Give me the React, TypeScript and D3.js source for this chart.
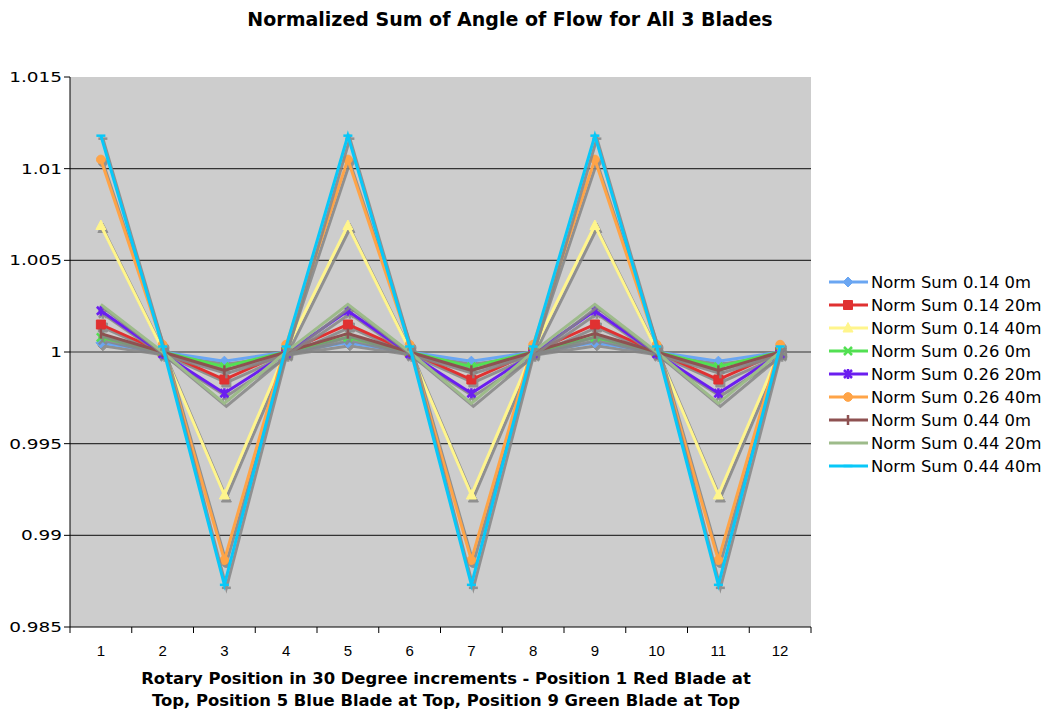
import React from 'react';
import * as d3 from 'd3';

// rotary positions 1..12
const positions = [1, 2, 3, 4, 5, 6, 7, 8, 9, 10, 11, 12];

const norm014_0m = [1.0005, 1.0, 0.9995, 1.0, 1.0005, 1.0, 0.9995, 1.0, 1.0005, 1.0, 0.9995, 1.0];
const norm014_20m = [1.0015, 1.0, 0.9985, 1.0, 1.0015, 1.0, 0.9985, 1.0, 1.0015, 1.0, 0.9985, 1.0];
const norm014_40m = [1.0069, 1.0001, 0.9922, 1.0001, 1.0069, 1.0001, 0.9922, 1.0001, 1.0069, 1.0001, 0.9922, 1.0001];
const norm026_0m = [1.0008, 1.0, 0.9992, 1.0, 1.0008, 1.0, 0.9992, 1.0, 1.0008, 1.0, 0.9992, 1.0];
const norm026_20m = [1.00225, 0.9999, 0.99775, 0.9999, 1.00225, 0.9999, 0.99775, 0.9999, 1.00225, 0.9999, 0.99775, 0.9999];
const norm026_40m = [1.0105, 1.0004, 0.98865, 1.0004, 1.0105, 1.0004, 0.98865, 1.0004, 1.0105, 1.0004, 0.98865, 1.0004];
const norm044_0m = [1.001, 1.0, 0.999, 1.0, 1.001, 1.0, 0.999, 1.0, 1.001, 1.0, 0.999, 1.0];
const norm044_20m = [1.0026, 1.0, 0.9972, 1.0, 1.0026, 1.0, 0.9972, 1.0, 1.0026, 1.0, 0.9972, 1.0];
const norm044_40m = [1.0118, 1.0003, 0.9873, 1.0003, 1.0118, 1.0003, 0.9873, 1.0003, 1.0118, 1.0003, 0.9873, 1.0003];

const seriesNames = [
  'Norm Sum 0.14 0m',
  'Norm Sum 0.14 20m',
  'Norm Sum 0.14 40m',
  'Norm Sum 0.26 0m',
  'Norm Sum 0.26 20m',
  'Norm Sum 0.26 40m',
  'Norm Sum 0.44 0m',
  'Norm Sum 0.44 20m',
  'Norm Sum 0.44 40m',
];
const seriesValues = [
  norm014_0m, norm014_20m, norm014_40m,
  norm026_0m, norm026_20m, norm026_40m,
  norm044_0m, norm044_20m, norm044_40m,
];
const seriesColors = ['#6AA6F2', '#E03131', '#FFF58C', '#52E052', '#6B1EF0', '#FFA447', '#8E5151', '#9DBB8A', '#08C8F8'];
const seriesMarkers = ['diamond', 'square', 'triangle', 'x', 'star', 'circle', 'vbar', 'none', 'hbar'];

const yTicks = [0.985, 0.99, 0.995, 1, 1.005, 1.01, 1.015];

const W = 1049;
const H = 710;
const plot = { left: 70, right: 811, top: 77, bottom: 627 };

function markerPath(kind: string): string {
  switch (kind) {
    case 'diamond': return 'M0,-5L5,0L0,5L-5,0Z';
    case 'square': return 'M-4.5,-4.5H4.5V4.5H-4.5Z';
    case 'triangle': return 'M0,-5.5L5,4L-5,4Z';
    case 'x': return 'M-4,-4L4,4M4,-4L-4,4';
    case 'star': return 'M-4,-4L4,4M4,-4L-4,4M0,-5V5';
    case 'circle': return d3.symbol(d3.symbolCircle, 60)() || '';
    case 'vbar': return 'M0,-5V5';
    case 'hbar': return 'M-4.5,0H4.5';
    default: return '';
  }
}
const filled = (k: string) => ['diamond', 'square', 'triangle', 'circle'].includes(k);

function Marker({ kind, color, x, y }: { kind: string; color: string; x: number; y: number }) {
  if (kind === 'none') return null;
  const d = markerPath(kind);
  return filled(kind)
    ? <path d={d} transform={`translate(${x},${y})`} fill={color} stroke={color} strokeWidth={1} />
    : <path d={d} transform={`translate(${x},${y})`} fill="none" stroke={color} strokeWidth={2.5} />;
}

export default function App() {
  const x = d3.scalePoint<number>().domain(positions).range([plot.left, plot.right]).padding(0.5);
  const y = d3.scaleLinear().domain([0.985, 1.015]).range([plot.bottom, plot.top]);
  const line = d3.line<number>().x((_, i) => x(positions[i]) as number).y(d => y(d));
  const step = x.step();
  const boundaries = d3.range(positions.length + 1).map(i => plot.left + i * step);

  const font = "'DejaVu Sans', Verdana, sans-serif";

  return (
    <div style={{ position: 'absolute', left: 0, top: 0 }}>
      <svg width={W} height={H} style={{ display: 'block', background: '#fff' }}>
        <text x={510} y={26} textAnchor="middle" fontFamily={font} fontWeight="bold" fontSize={19} fill="#000">
          Normalized Sum of Angle of Flow for All 3 Blades
        </text>

        <rect x={plot.left} y={plot.top} width={plot.right - plot.left} height={plot.bottom - plot.top} fill="#CDCDCD" />
        {yTicks.slice(1, -1).map(t => (
          <line key={t} x1={plot.left} x2={plot.right} y1={y(t)} y2={y(t)} stroke="#333" strokeWidth={1.2} />
        ))}

        {seriesValues.map((vals, si) => (
          <g key={'s' + si}>
            <g transform="translate(2,3)" opacity={0.85}>
              <path d={line(vals) || ''} fill="none" stroke="#868686" strokeWidth={3} />
              {vals.map((v, i) => (
                <Marker key={i} kind={seriesMarkers[si]} color="#868686" x={x(positions[i]) as number} y={y(v)} />
              ))}
            </g>
            <path d={line(vals) || ''} fill="none" stroke={seriesColors[si]} strokeWidth={3} strokeLinejoin="miter" />
            {vals.map((v, i) => (
              <Marker key={i} kind={seriesMarkers[si]} color={seriesColors[si]} x={x(positions[i]) as number} y={y(v)} />
            ))}
          </g>
        ))}

        {/* axes */}
        <line x1={plot.left} x2={plot.left} y1={plot.top} y2={plot.bottom} stroke="#000" />
        <line x1={plot.left} x2={plot.right} y1={plot.bottom} y2={plot.bottom} stroke="#000" />
        {yTicks.map(t => (
          <g key={'yt' + t}>
            <line x1={plot.left - 6} x2={plot.left} y1={y(t)} y2={y(t)} stroke="#000" />
            <text x={62} y={y(t) + 5} textAnchor="end" fontFamily={font} fontSize={14} fill="#000"
              transform={`translate(62,0) scale(1.32,1) translate(-62,0)`}>
              {String(t)}
            </text>
          </g>
        ))}
        {boundaries.map((b, i) => (
          <line key={'xt' + i} x1={b} x2={b} y1={plot.bottom} y2={plot.bottom + 6} stroke="#000" />
        ))}
        {positions.map(p => (
          <text key={'xl' + p} x={x(p) as number} y={656} textAnchor="middle" fontFamily="'Liberation Sans', Arial, sans-serif" fontSize={15} fill="#000">
            {p}
          </text>
        ))}
        <text x={446} y={684} textAnchor="middle" fontFamily={font} fontWeight="bold" fontSize={16.4} fill="#000">
          Rotary Position in 30 Degree increments - Position 1 Red Blade at
        </text>
        <text x={446} y={706} textAnchor="middle" fontFamily={font} fontWeight="bold" fontSize={16.4} fill="#000">
          Top, Position 5 Blue Blade at Top, Position 9 Green Blade at Top
        </text>

        {/* legend */}
        {seriesNames.map((n, i) => {
          const ly = 282 + i * 23;
          return (
            <g key={'lg' + i}>
              <line x1={829} x2={868} y1={ly} y2={ly} stroke={seriesColors[i]} strokeWidth={3} />
              <Marker kind={seriesMarkers[i]} color={seriesColors[i]} x={848} y={ly} />
              <text x={871} y={ly + 5.5} fontFamily={font} fontSize={16.4} fill="#000">{n}</text>
            </g>
          );
        })}
      </svg>
    </div>
  );
}
